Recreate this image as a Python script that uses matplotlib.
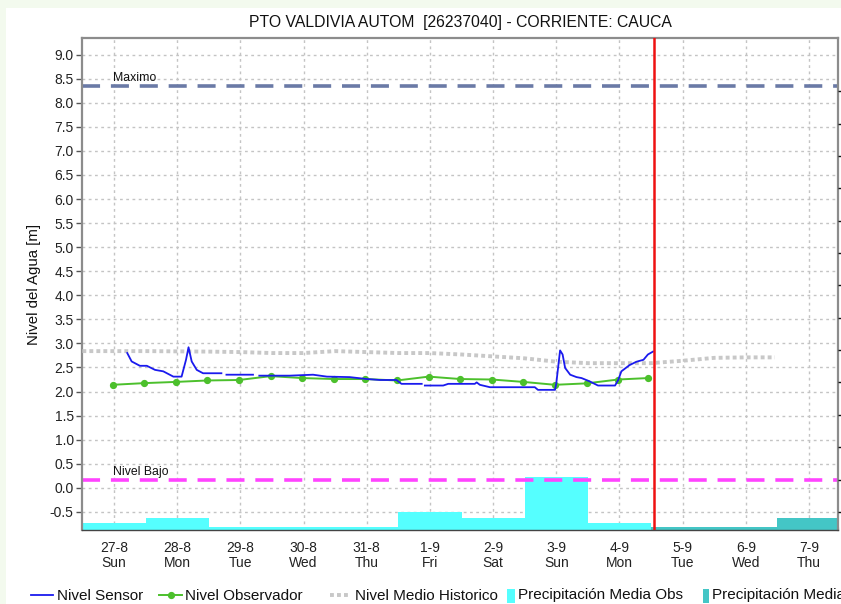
import numpy as np
import matplotlib
matplotlib.use("Agg")
import matplotlib.pyplot as plt
from matplotlib.patches import Rectangle
from matplotlib.lines import Line2D

plt.rcParams['font.family'] = ['Liberation Sans', 'DejaVu Sans']

# ---------------- data ----------------
title = "PTO VALDIVIA AUTOM  [26237040] - CORRIENTE: CAUCA"
day_labels = ["27-8\nSun", "28-8\nMon", "29-8\nTue", "30-8\nWed", "31-8\nThu", "1-9\nFri",
              "2-9\nSat", "3-9\nSun", "4-9\nMon", "5-9\nTue", "6-9\nWed", "7-9\nThu"]

# Nivel Sensor (days since 27-8, level m); NaN = gap
sensor_x = [0.21, 0.28, 0.41, 0.52, 0.65, 0.78, 0.94, 1.07, 1.14, 1.18, 1.23, 1.31, 1.41, 1.70,
            1.74, 1.78, 2.20, 2.25, 2.30, 2.63, 2.78, 3.15, 3.37, 3.73, 4.00, 4.21, 4.47, 4.55,
            4.87, 4.90, 4.92, 5.21, 5.29, 5.71, 5.74, 5.79, 5.95, 6.66, 6.71, 6.98, 7.00, 7.06,
            7.10, 7.14, 7.22, 7.32, 7.40, 7.53, 7.66, 7.93, 7.98, 8.03, 8.16, 8.27, 8.38, 8.45, 8.53]
sensor_y = [2.80, 2.625, 2.535, 2.535, 2.45, 2.42, 2.31, 2.31, 2.66, 2.92, 2.625, 2.45, 2.38, 2.38,
            np.nan, 2.35, 2.35, np.nan, 2.33, 2.33, 2.33, 2.35, 2.31, 2.30, 2.26, 2.24, 2.24, 2.16,
            2.16, np.nan, 2.125, 2.125, 2.16, 2.16, 2.19, 2.14, 2.09, 2.09, 2.035, 2.035, 2.17, 2.855,
            2.77, 2.49, 2.35, 2.30, 2.28, 2.21, 2.125, 2.125, 2.24, 2.42, 2.55, 2.62, 2.66, 2.77, 2.83]

# Nivel Observador (twice daily)
obs_x = [-0.02, 0.48, 0.98, 1.48, 1.98, 2.48, 2.98, 3.48, 3.98, 4.48, 4.98, 5.48, 5.98, 6.48,
         6.98, 7.48, 7.98, 8.45]
obs_y = [2.14, 2.175, 2.20, 2.23, 2.24, 2.32, 2.28, 2.26, 2.26, 2.23, 2.31, 2.26, 2.25, 2.20,
         2.14, 2.17, 2.25, 2.28]

# Nivel Medio Historico
hist_x = [-0.5, 0.5, 1.5, 2.0, 2.5, 3.0, 3.5, 4.0, 4.5, 5.0, 5.5, 6.0, 6.5, 7.0, 7.5, 8.0,
          8.5, 9.0, 9.5, 10.0, 10.46]
hist_y = [2.84, 2.84, 2.83, 2.82, 2.80, 2.80, 2.84, 2.82, 2.80, 2.80, 2.77, 2.73, 2.69, 2.62,
          2.59, 2.59, 2.59, 2.64, 2.70, 2.71, 2.71]

# Precipitation bars (top level on the chart scale)
precip_obs_x = [0, 1, 2, 3, 4, 5, 6, 7, 8]
precip_obs_top = [-0.74, -0.635, -0.81, -0.81, -0.82, -0.51, -0.635, 0.22, -0.74]
precip_pron_x = [9, 10, 11]
precip_pron_top = [-0.81, -0.81, -0.635]

nivel_maximo = 8.35
nivel_bajo = 0.17
now_x = 8.55

ymin, ymax = -0.877, 9.34
xmin, xmax = -0.506, 11.456

legend_labels = ['Nivel Sensor', 'Nivel Observador', 'Nivel Medio Historico',
                 'Precipitación Media Obs', 'Precipitación Media Pron']

# colours
c_sensor = '#1a1aee'
c_obs = '#4cc02c'
c_hist = '#c8c8c8'
c_obs_bar = '#55ffff'
c_pron_bar = '#44c6c6'

W, H = 841, 604
def fx(x):
    return x / W
def fy(y):
    return 1 - y / H

# ---------------- figure ----------------
fig = plt.figure(figsize=(W / 100, H / 100), dpi=100, facecolor='#f3faee')
fig.patches.append(Rectangle((fx(6), 0), 1, fy(8), transform=fig.transFigure,
                             facecolor='white', edgecolor='none', zorder=-10))

ax = fig.add_axes([fx(82), fy(530), (838 - 82) / W, (530 - 38.3) / H])
ax.set_facecolor('white')

# bars
ax.bar(precip_obs_x, np.array(precip_obs_top) - ymin, bottom=ymin, width=1.0,
       color=c_obs_bar, edgecolor='none', zorder=1)
ax.bar(precip_pron_x, np.array(precip_pron_top) - ymin, bottom=ymin, width=1.0,
       color=c_pron_bar, edgecolor='none', zorder=1)

# reference lines
ax.axhline(nivel_maximo, color='#6a7aa6', lw=2.6, dashes=(5, 3), zorder=2)
ax.axhline(nivel_bajo, color='#ff44ff', lw=2.6, dashes=(5, 3), zorder=2)
ax.text(-0.02, nivel_maximo + 0.04, "Maximo", fontsize=8.8, ha='left', va='bottom', color='#111')
ax.text(-0.02, nivel_bajo + 0.04, "Nivel Bajo", fontsize=8.8, ha='left', va='bottom', color='#111')

# series
ax.plot(hist_x, hist_y, color=c_hist, lw=2.8, linestyle=(0, (1, 0.8)), zorder=3)
ax.plot(obs_x, obs_y, color=c_obs, lw=1.4, marker='o', ms=4.2, mec=c_obs, mfc=c_obs, zorder=4)
ax.plot(sensor_x, sensor_y, color=c_sensor, lw=1.3, zorder=5)

ax.axvline(now_x, color='#ee1111', lw=1.8, zorder=6)

# axes styling
ax.set_xlim(xmin, xmax)
ax.set_ylim(ymin, ymax)
yt = np.arange(-0.5, 9.01, 0.5)
ax.set_yticks(yt)
ax.set_yticklabels([f"{v:.1f}" for v in yt])
ax.set_xticks(range(len(day_labels)))
ax.set_xticklabels(day_labels, linespacing=1.12)
ax.set_xticks(np.arange(-12, 11.5 * 24, 1) / 24.0, minor=True)
ax.tick_params(axis='x', which='major', length=0, pad=8, labelsize=10, colors='#222')
ax.tick_params(axis='x', which='minor', length=2, width=0.8, color='#333', direction='in')
ax.tick_params(axis='y', which='major', length=4, width=1, color='#555', labelsize=10,
               labelcolor='#222', pad=2)
ax.grid(True, which='major', color='#c4c4c4', lw=1, dashes=(2, 2.5))
ax.set_axisbelow(True)
for s in ['left', 'top', 'right']:
    ax.spines[s].set_color('#8c8c8c')
    ax.spines[s].set_linewidth(1.6)
ax.spines['bottom'].set_color('#444')
ax.spines['bottom'].set_linewidth(1.0)
ax.set_ylabel("Nivel del Agua [m]", fontsize=10.8, labelpad=6, color='#111')
ax.set_title(title, fontsize=11.3, pad=8, color='#111')

# secondary right axis (ticks only)
ax2 = ax.twinx()
ax2.set_ylim(ymin, ymax)
ax2.set_yticks(np.arange(-0.5, 8.4, 0.672))
ax2.set_yticklabels([])
ax2.tick_params(axis='y', length=3, width=1, color='#111', direction='out')
for s in ax2.spines.values():
    s.set_visible(False)

# legend (laid out as in the reference)
base = fy(599.5)
mid = fy(595)
fig.add_artist(Line2D([fx(31), fx(53)], [mid, mid], color=c_sensor, lw=1.3,
                      transform=fig.transFigure))
fig.add_artist(Line2D([fx(159), fx(182)], [mid, mid], color=c_obs, lw=1.4,
                      transform=fig.transFigure))
fig.add_artist(Line2D([fx(170.5)], [mid], color=c_obs, marker='o', ms=4.2,
                      transform=fig.transFigure))
fig.add_artist(Line2D([fx(330), fx(350)], [mid, mid], color=c_hist, lw=2.8,
                      linestyle=(0, (1, 0.8)), transform=fig.transFigure))
fig.patches.append(Rectangle((fx(507), fy(603)), 8 / W, 14 / H, transform=fig.transFigure,
                             facecolor=c_obs_bar, edgecolor='none'))
fig.patches.append(Rectangle((fx(703), fy(603)), 6 / W, 14 / H, transform=fig.transFigure,
                             facecolor=c_pron_bar, edgecolor='none'))
for x0, lab in zip([57, 185, 355, 518, 712], legend_labels):
    fig.text(fx(x0), base, lab, fontsize=11, ha='left', va='baseline', color='#111')

fig.savefig("out.png", dpi=100, facecolor=fig.get_facecolor())
